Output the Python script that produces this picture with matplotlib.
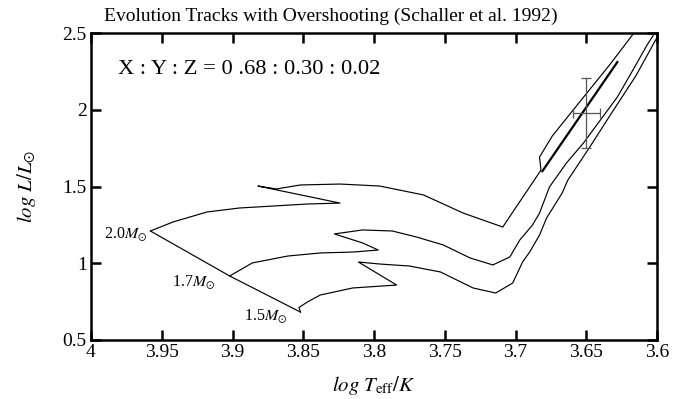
import matplotlib
matplotlib.use("Agg")
import matplotlib.pyplot as plt

plt.rcParams['font.family'] = ['Liberation Serif', 'DejaVu Serif']
plt.rcParams['mathtext.fontset'] = 'stix'

# Track data: log Teff, log L/Lsun
t20 = [3.958, 3.942, 3.918, 3.895, 3.871, 3.847, 3.824, 3.882, 3.869, 3.852, 3.824,
       3.796, 3.765, 3.737, 3.709, 3.682, 3.683, 3.674, 3.657, 3.633, 3.612]
l20 = [1.210, 1.269, 1.334, 1.360, 1.373, 1.386, 1.392, 1.503, 1.484, 1.510, 1.516,
       1.503, 1.445, 1.327, 1.236, 1.607, 1.692, 1.829, 2.024, 2.298, 2.552]

t17 = [3.902, 3.886, 3.861, 3.838, 3.815, 3.797, 3.808, 3.828, 3.808, 3.787, 3.770,
       3.751, 3.732, 3.716, 3.704, 3.697, 3.688, 3.683, 3.676, 3.664, 3.652, 3.640,
       3.628, 3.617, 3.607, 3.598]
l17 = [0.917, 1.002, 1.047, 1.067, 1.073, 1.086, 1.132, 1.191, 1.217, 1.210, 1.171,
       1.119, 1.034, 0.989, 1.041, 1.151, 1.249, 1.327, 1.497, 1.653, 1.783, 1.933,
       2.083, 2.259, 2.422, 2.552]

t15 = [3.852, 3.853, 3.847, 3.838, 3.815, 3.784, 3.811, 3.796, 3.775, 3.753, 3.730,
       3.714, 3.702, 3.695, 3.690, 3.683, 3.678, 3.667, 3.663, 3.648, 3.632, 3.615,
       3.601, 3.595]
l15 = [0.682, 0.712, 0.748, 0.793, 0.839, 0.858, 1.008, 0.995, 0.982, 0.943, 0.839,
       0.806, 0.871, 1.008, 1.073, 1.184, 1.295, 1.458, 1.542, 1.750, 1.980, 2.220,
       2.454, 2.540]

# Zero-age main sequence through the track starting points
t_zams = [3.958, 3.902, 3.852]
l_zams = [1.210, 0.917, 0.682]

# He-burning loop segment (thick)
t_loop = [3.681, 3.628]
l_loop = [1.600, 2.311]

# Observed star with error bars
star_t, star_l = 3.650, 1.980
star_terr, star_lerr = 0.0095, 0.23

mass_labels = ['2.0', '1.7', '1.5']
label_t = [3.960, 3.912, 3.861]
label_l = [1.188, 0.878, 0.655]

xticks = [4.0, 3.95, 3.9, 3.85, 3.8, 3.75, 3.7, 3.65, 3.6]
xticklabels = ['4', '3.95', '3.9', '3.85', '3.8', '3.75', '3.7', '3.65', '3.6']
yticks = [0.5, 1.0, 1.5, 2.0, 2.5]
yticklabels = ['0.5', '1', '1.5', '2', '2.5']

fig = plt.figure(figsize=(6.77, 3.99), dpi=100)
ax = fig.add_axes([91/677, 1-340/399, 566/677, 307/399])

for t, l in [(t20, l20), (t17, l17), (t15, l15)]:
    ax.plot(t, l, color='black', lw=0.85)
ax.plot(t_zams, l_zams, color='black', lw=0.85)
ax.plot(t_loop, l_loop, color='black', lw=1.6)

ax.errorbar([star_t], [star_l], xerr=[star_terr], yerr=[star_lerr], fmt='none',
            ecolor='#555555', elinewidth=0.9, capsize=3.5, capthick=0.9)

# mass labels at ZAMS
for m, tx, ly in zip(mass_labels, label_t, label_l):
    ax.text(tx, ly, m + r'$M_{\odot}$', ha='right', va='center', fontsize=11.5)

ax.text(0.047, 0.88, 'X : Y : Z = 0 .68 : 0.30 : 0.02', transform=ax.transAxes,
        fontsize=16.2, ha='left', va='center')

ax.set_xlim(4.0, 3.6)
ax.set_ylim(0.5, 2.5)
ax.set_xticks(xticks)
ax.set_xticklabels(xticklabels)
ax.set_yticks(yticks)
ax.set_yticklabels(yticklabels)
ax.tick_params(direction='in', length=7, width=1.8, labelsize=14, top=True, right=True,
               labeltop=False, labelright=False, pad=3)
for s in ax.spines.values():
    s.set_linewidth(1.8)

fig.text(331/677, 1-16/399, 'Evolution Tracks with Overshooting (Schaller et al. 1992)',
         fontsize=14, ha='center', va='center')
ax.set_xlabel(r'$log\ T_{\rm eff}/K$', fontsize=15, labelpad=9)
ax.set_ylabel(r'$log\ L/L_{\odot}$', fontsize=15, labelpad=18)

fig.savefig('out.png', dpi=100)
